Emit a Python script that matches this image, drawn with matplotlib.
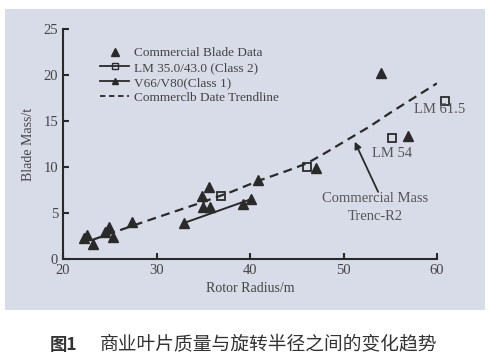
import matplotlib.pyplot as plt
from matplotlib.patches import Rectangle
from matplotlib.lines import Line2D

# commercial blade data (rotor radius m, blade mass t)
comm_x = [22.2, 22.6, 23.2, 24.5, 24.9, 25.3, 27.4, 34.9, 35.6, 35.0, 35.7,
          39.2, 40.9, 47.1, 54.0, 56.9]
comm_y = [2.25, 2.6, 1.6, 2.9, 3.5, 2.4, 4.05, 6.8, 7.8, 5.6, 5.7,
          6.0, 8.6, 9.9, 20.25, 13.4]

# LM blades (class 2)
lm_x = [36.9, 46.1, 55.2, 60.85]
lm_y = [6.85, 10.0, 13.2, 17.2]

# V66/V80 (class 1)
v_x = [32.9, 40.1]
v_y = [3.9, 6.5]

# trendline
trend_x = [23.2, 27.4, 30, 34.7, 38, 40.9, 44, 46.1, 48, 50.3, 52.8, 55, 57.5, 60]
trend_y = [2.1, 3.6, 4.5, 6.1, 7.3, 8.5, 9.6, 10.4, 11.5, 12.9, 14.4, 15.9, 17.5, 19.1]

ink = "#2a2a2a"
plt.rcParams["font.family"] = ["Liberation Serif", "DejaVu Serif"]

fig = plt.figure(figsize=(5, 3.63), dpi=100)
fig.patches.append(Rectangle((0.01, 0.146), 0.96, 0.829, transform=fig.transFigure,
                             facecolor="#d8dce8", edgecolor="none", zorder=-10))

ax = fig.add_axes([0.126, 0.2865, 0.748, 0.6335])
ax.patch.set_alpha(0)

ax.plot(trend_x, trend_y, ls=(0, (4, 2.5)), color=ink, lw=1.6)
ax.plot(comm_x, comm_y, ls="none", marker="^", ms=6.5, color=ink)
ax.plot(lm_x, lm_y, ls="none", marker="s", ms=6, mfc="none", mec=ink, mew=1.3,
        clip_on=False)
ax.plot(v_x, v_y, ls="-", lw=1.4, marker="^", ms=6.5, color=ink)

ax.text(60.3, 16.2, "LM 61.5", fontsize=10.5, color="#555", ha="center", va="center")
ax.text(55.2, 11.5, "LM 54", fontsize=10.5, color="#555", ha="center", va="center")
ax.text(53.4, 5.6, "Commercial Mass\nTrenc-R2", fontsize=10.5, color="#555",
        ha="center", va="center", linespacing=1.5)
ax.annotate("", xy=(51.2, 12.75), xytext=(53.7, 7.3),
            arrowprops=dict(arrowstyle="-|>", color=ink, lw=1.3,
                            shrinkA=0, shrinkB=0))

ax.set_xlim(20, 60)
ax.set_ylim(0, 25)
ax.set_xticks([20, 30, 40, 50, 60])
ax.set_yticks([0, 5, 10, 15, 20, 25])
for s in ["top", "right"]:
    ax.spines[s].set_visible(False)
for s in ["left", "bottom"]:
    ax.spines[s].set_color(ink)
    ax.spines[s].set_linewidth(1.5)
ax.tick_params(direction="in", length=4, width=1.5, colors=ink,
               labelsize=10.5, labelcolor="#444")
ax.set_xlabel("Rotor Radius/m", fontsize=10, color="#444", labelpad=4)
ax.set_ylabel("Blade Mass/t", fontsize=10, color="#444", labelpad=6)

handles = [
    Line2D([], [], ls="none", marker="^", ms=6, color=ink),
    Line2D([], [], ls="-", lw=1.3, marker="s", ms=5, mfc="none", mec=ink, color=ink),
    Line2D([], [], ls="-", lw=1.3, marker="^", ms=5, color=ink),
    Line2D([], [], ls=(0, (3, 2)), lw=1.3, color=ink),
]
labels = ["Commercial Blade Data", "LM 35.0/43.0 (Class 2)",
          "V66/V80(Class 1)", "Commerclb Date Trendline"]
ax.legend(handles, labels, loc="upper left", bbox_to_anchor=(0.085, 0.945),
          frameon=False, fontsize=9.5, labelcolor="#444", handlelength=2.2,
          handletextpad=0.4, labelspacing=0.2, borderaxespad=0)

fig.text(0.1, 0.035, "图1", fontsize=12.5, fontweight="bold", color="#333",
         family=["Noto Sans CJK SC", "DejaVu Sans"])
fig.text(0.2, 0.035, "商业叶片质量与旋转半径之间的变化趋势", fontsize=13.5,
         color="#333", family=["Noto Sans CJK SC", "DejaVu Sans"])

fig.savefig("out.png", dpi=100)
